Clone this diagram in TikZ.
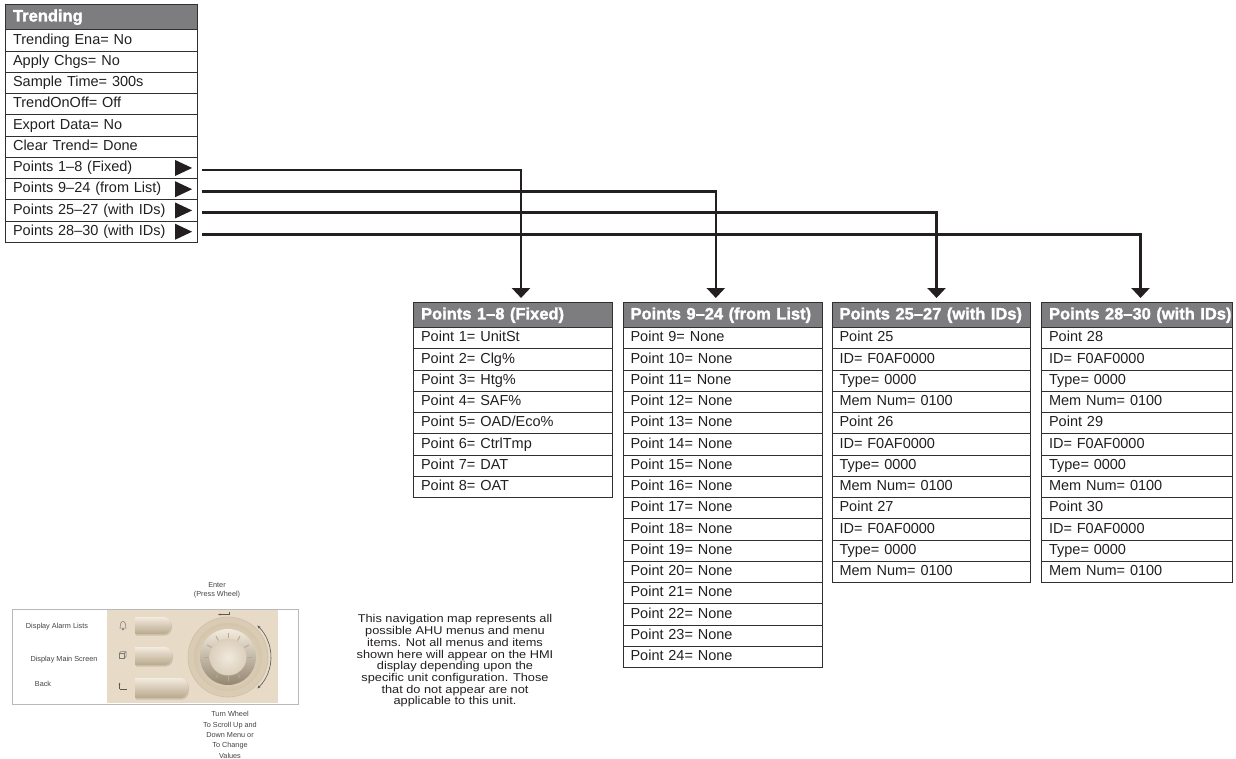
\documentclass[tikz,border=0pt]{standalone}
\usepackage{fontspec}
\setmainfont{Liberation Sans}
\newfontfamily\headfont[FakeBold=1.6]{Liberation Sans Bold}
\newfontfamily\notefont[FakeStretch=1.13]{Liberation Sans}
\usetikzlibrary{arrows.meta}

\definecolor{ink}{HTML}{231F20}
\definecolor{headgray}{HTML}{7D7D7F}
\definecolor{boxline}{HTML}{303030}
\definecolor{panel}{HTML}{E7DAC6}
\definecolor{panelrim}{HTML}{CFBFA5}
\definecolor{btnlight}{HTML}{F3EBDE}
\definecolor{btndark}{HTML}{B9A88D}

% rounded-end push button of the control panel: x1, y1, x2, y2
\newcommand\hmibutton[4]{%
  \fill[btndark!70] ({#1+1},{#2+1.5}) -- ({#3-6},{#2+1.5}) to[out=0,in=90] ({#3+1},{(#2+#4)/2+1.5})
    to[out=-90,in=0] ({#3-6},{#4+1.5}) -- ({#1+1},{#4+1.5}) -- cycle;
  \shade[top color=btnlight, bottom color=btndark] (#1,#2) -- ({#3-7},#2) to[out=0,in=90] (#3,{(#2+#4)/2})
    to[out=-90,in=0] ({#3-7},#4) -- (#1,#4) -- cycle;
}

\tikzset{
  cell/.style={draw=boxline, line width=1.1pt, anchor=north west, inner xsep=7.5pt, inner ysep=0pt,
    minimum height=21.25pt, text width=#1, align=left, text height=10.4pt, text depth=3.1pt,
    font=\fontsize{14.5}{16}\selectfont, text=ink},
  headcell/.style={cell=#1, fill=headgray, text=white, minimum height=25.3pt,
    font=\headfont\fontsize{16.5}{18}\selectfont, text height=11.9pt, text depth=3.4pt},
  link/.style={draw=ink, line width=2.6pt, -{Triangle[width=18pt,length=10pt]}},
  paneltext/.style={font=\fontsize{7.3}{9}\selectfont, text=ink!85, align=center, inner sep=0pt},
  marker/.style={fill=ink},
}

\begin{document}
\begin{tikzpicture}[x=1pt,y=-1pt]
\useasboundingbox (0,0) rectangle (1236,759);

% ---- Trending menu ----
\node[headcell=177pt] (mh) at (5,4) {Trending};
\foreach \t [count=\i] in {Trending Ena= No, Apply Chgs= No, Sample Time= 300s, TrendOnOff= Off,
    Export Data= No, Clear Trend= Done, Points 1–8 (Fixed), Points 9–24 (from List),
    Points 25–27 (with IDs), Points 28–30 (with IDs)}
  \node[cell=177pt] (m\i) at (5,{29.3+(\i-1)*21.25}) {\t};
\foreach \i in {7,...,10}
  \fill[marker] (m\i.east) ++(-23,-8) -- ++(17,8) -- ++(-17,8) -- cycle;

% ---- Points 1-8 ----
\node[headcell=184pt] (h1) at (413,302) {\mbox{Points 1–8 (Fixed)}};
\foreach \t [count=\i] in {Point 1= UnitSt, Point 2= Clg\%, Point 3= Htg\%, Point 4= SAF\%,
    Point 5= OAD/Eco\%, Point 6= CtrlTmp, Point 7= DAT, Point 8= OAT}
  \node[cell=184pt] (b1r\i) at (413,{327+(\i-1)*21.25}) {\t};

% ---- Points 9-24 ----
\node[headcell=184.5pt] (h2) at (622.5,302) {\mbox{Points 9–24 (from List)}};
\foreach \k [count=\i] in {9,...,24}
  \node[cell=184.5pt] (b2r\i) at (622.5,{327+(\i-1)*21.25}) {Point \k= None};

% ---- Points 25-27 ----
\node[headcell=183pt] (h3) at (831.5,302) {\mbox{Points 25–27 (with IDs)}};
\foreach \t [count=\i] in {Point 25, ID= F0AF0000, Type= 0000, Mem Num= 0100,
    Point 26, ID= F0AF0000, Type= 0000, Mem Num= 0100,
    Point 27, ID= F0AF0000, Type= 0000, Mem Num= 0100}
  \node[cell=183pt] (b3r\i) at (831.5,{327+(\i-1)*21.25}) {\t};

% ---- Points 28-30 ----
\node[headcell=176pt] (h4) at (1041,302) {\mbox{Points 28–30 (with IDs)}};
\foreach \t [count=\i] in {Point 28, ID= F0AF0000, Type= 0000, Mem Num= 0100,
    Point 29, ID= F0AF0000, Type= 0000, Mem Num= 0100,
    Point 30, ID= F0AF0000, Type= 0000, Mem Num= 0100}
  \node[cell=176pt] (b4r\i) at (1041,{327+(\i-1)*21.25}) {\t};

% ---- links from the menu to the sub-menus ----
\draw[link] ([xshift=4pt,yshift=-2pt]m7.east)  -| ([xshift=8pt,yshift=4pt]h1.north);
\draw[link] ([xshift=4pt,yshift=-2pt]m8.east)  -| ([xshift=-7pt,yshift=4pt]h2.north);
\draw[link] ([xshift=4pt,yshift=-2pt]m9.east)  -| ([xshift=5.5pt,yshift=4pt]h3.north);
\draw[link] ([xshift=4pt,yshift=-3pt]m10.east) -| ([xshift=3.5pt,yshift=4pt]h4.north);

% ---- HMI control panel ----
\draw[gray!55, line width=0.7pt, fill=white] (12,609) rectangle (298,704);
\fill[panel] (107,609.6) rectangle (278,703.4);
\hmibutton{135}{617}{171}{634}
\hmibutton{135}{647}{172}{665}
\hmibutton{135}{678}{188}{698}

% wheel
\fill[panelrim!55!panel] (228,657) circle (40);
\draw[panelrim, line width=0.6pt] (228,657) circle (40);
\shade[inner color=btnlight, outer color=panelrim!80!panel] (228,657) circle (34);
\shade[top color=btnlight, bottom color=btndark!80!black] (228,657) circle (28);
\shade[inner color=panel!60!white, outer color=panel!95!black] (228,657) circle (18.5);
\foreach \a in {0,30,...,330}
  \draw[btndark, line width=0.9pt] (228,657) ++(\a:19) -- ++(\a:5);
\draw[ink!75, line width=0.6pt, {Stealth[length=3.5pt]}-{Stealth[length=3.5pt]}]
  (228,657) ++(47:43) arc[start angle=47, end angle=-47, radius=43];
\draw[ink!75, line width=0.6pt, -{Stealth[length=2.5pt]}] (229,611.5) -- (229,614.5) -- (218,614.5);

% icons beside the buttons
\draw[ink!60, line width=0.5pt] (120,628) to[out=80,in=180] (123,621.5) to[out=0,in=100] (126,628) -- cycle;
\draw[ink!60, line width=0.5pt] (123,629.2) circle (0.8);
\draw[ink!60, line width=0.5pt] (119,653.5) rectangle (124,658.5);
\draw[ink!60, line width=0.5pt] (119,653.5) -- (121,651.5) -- (126,651.5) -- (124,653.5) (126,651.5) -- (126,656.5) -- (124,658.5);
\draw[ink!75, line width=0.6pt, -{Stealth[length=2.2pt]}] (119.5,689) -- (119.5,682.5);
\draw[ink!75, line width=0.6pt] (119.5,689) -- (127,689);

% panel labels
\node[paneltext] (lblalarm) at (57,627) {Display Alarm Lists};
\node[paneltext] (lblmain) at (64,660) {Display Main Screen};
\node[paneltext] (lblback) at (43,684) {Back};
\node[paneltext] (lblenter) at (217,590.5) {Enter\\(Press Wheel)};
\node[paneltext, font=\fontsize{7.3}{10.3}\selectfont, anchor=north] (lblturn) at (230,711.5)
  {Turn Wheel\\To Scroll Up and\\Down Menu or\\To Change\\Values};

% ---- note ----
\node[font=\notefont\fontsize{11.3}{11.7}\selectfont, text=ink, align=center, inner sep=0pt] (note) at (455,661)
  {This navigation map represents all\\possible AHU menus and menu\\items.  Not all menus and items\\shown here will appear on the HMI\\display depending upon the\\specific unit configuration.  Those\\that do not appear are not\\applicable to this unit.};
\end{tikzpicture}
\end{document}
